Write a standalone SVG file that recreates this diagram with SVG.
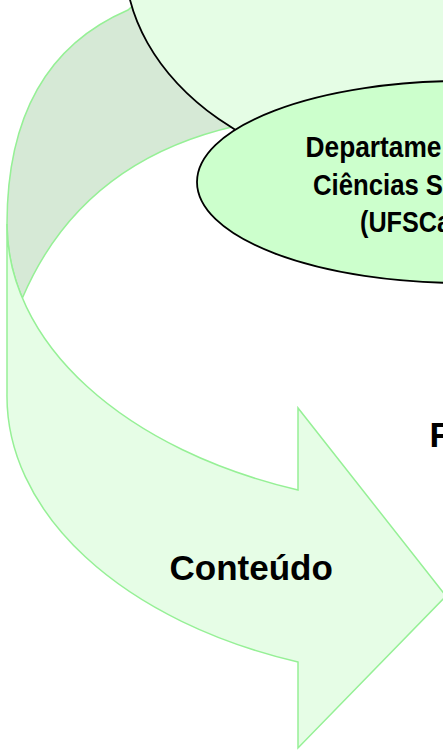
<svg xmlns="http://www.w3.org/2000/svg" width="443" height="750" viewBox="0 0 443 750">
  <style>
    .band { stroke: #96f096; stroke-width: 1.5; stroke-linejoin: miter; }
    .back { fill: #d6e9d6; }
    .front { fill: #e6fde6; }
    .oval { stroke: #000000; stroke-width: 1.8; }
    .lbl { font-family: "Liberation Sans", Arial, sans-serif; font-weight: bold; fill: #000000; }
  </style>
  <rect width="443" height="750" fill="#ffffff"/>
  <g id="curved-arrow">
    <path class="band back" d="M150,-10 L128,10 C35,50 7,135 7,224 A443,283 0 0 0 22.4,298 C60,210 130,150 236,126 L330,60 Z"/>
    <path class="band front" d="M7,224 L7,393 A443,283 0 0 0 298,662 L298,748 L446,596 L298,408 L298,490 A443,283 0 0 1 7,224 Z"/>
    <text class="lbl" x="169.5" y="580" font-size="35">Conteúdo</text>
  </g>
  <g id="node-top">
    <ellipse class="oval" cx="445" cy="-40" rx="320" ry="225" fill="#e5fde5"/>
  </g>
  <g id="node-departamento">
    <ellipse class="oval" cx="462" cy="182" rx="265" ry="101" fill="#ccffcc"/>
    <text class="lbl" x="305.5" y="157" font-size="29" textLength="136" lengthAdjust="spacingAndGlyphs">Departame</text>
    <text class="lbl" x="313" y="194.5" font-size="29" textLength="130" lengthAdjust="spacingAndGlyphs">Ciências S</text>
    <text class="lbl" x="360" y="232" font-size="29" textLength="91" lengthAdjust="spacingAndGlyphs">(UFSCa</text>
  </g>
  <g id="node-f">
    <text class="lbl" x="429.5" y="447" font-size="35">F</text>
  </g>
  <g id="connectors"></g>
</svg>
